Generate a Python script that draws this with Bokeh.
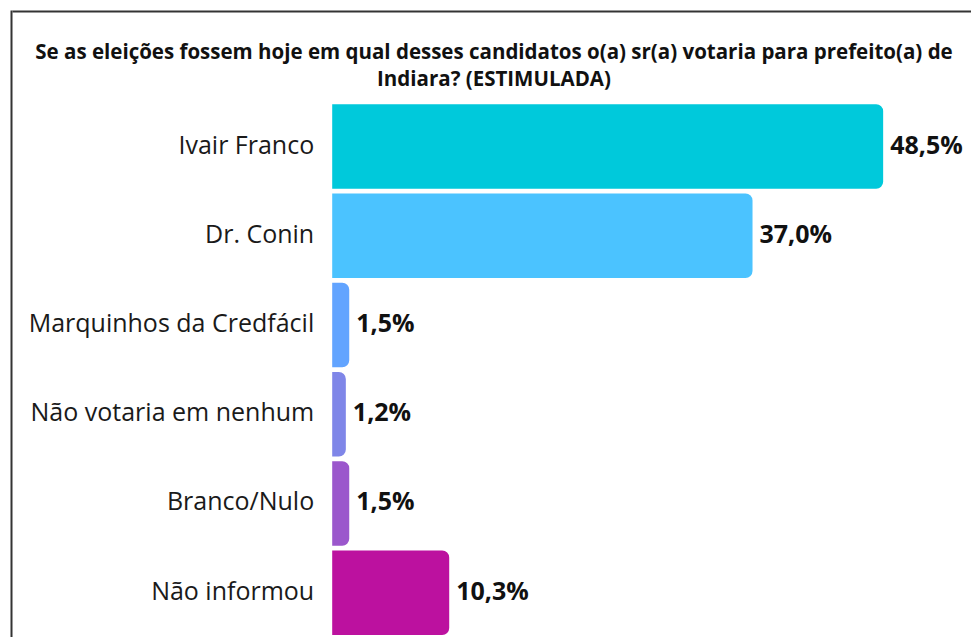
from bokeh.plotting import figure
from bokeh.models import ColumnDataSource, Range1d
from bokeh.core.properties import value
from bokeh.embed import file_html
from bokeh.resources import INLINE

# ---- data ----
categories = ["Ivair Franco", "Dr. Conin", "Marquinhos da Credfácil",
              "Não votaria em nenhum", "Branco/Nulo", "Não informou"]
values = [48.5, 37.0, 1.5, 1.2, 1.5, 10.3]
value_labels = ["48,5%", "37,0%", "1,5%", "1,2%", "1,5%", "10,3%"]
title_lines = ["Se as eleições fossem hoje em qual desses candidatos o(a) sr(a) votaria para prefeito(a) de",
               "Indiara? (ESTIMULADA)"]

# ---- styles ----
colors = ["#00C9DB", "#4BC3FF", "#62A4FF", "#7F86E8", "#9B57CC", "#BC119F"]

W, H = 971, 637
px_per_unit_x = 11.36
zero_px = 331.7
band_px = 89.24
first_center_px = 146.0

x_start = -zero_px / px_per_unit_x
x_end = (W - zero_px) / px_per_unit_x
y_top = -first_center_px / band_px
y_bottom = (len(categories) - 1) + (H - (first_center_px + band_px * (len(categories) - 1))) / band_px

def sx(px):
    return (px - zero_px) / px_per_unit_x

def sy(px):
    return (px - first_center_px) / band_px

pos = list(range(len(categories)))
src = ColumnDataSource(dict(y=pos, v=values, cat=categories, lab=value_labels,
                            color=colors, zero=[0] * len(values)))

p = figure(width=W, height=H, output_backend="svg", toolbar_location=None,
           x_range=Range1d(x_start, x_end), y_range=Range1d(y_bottom, y_top),
           min_border=0, background_fill_color="white", border_fill_color="white")
p.axis.visible = False
p.grid.visible = False
p.outline_line_color = None

p.hbar(y="y", left="zero", right="v", height=0.947, color="color", source=src,
       line_color=None, border_radius=(0, 7, 7, 0))

p.text(x="v", y="y", text="lab", source=src, x_offset=7, y_offset=-3,
       text_align="left", text_baseline="middle",
       text_font=value("Open Sans"), text_font_style="bold",
       text_font_size="25px", text_color="#111111")

p.text(x="zero", y="y", text="cat", source=src, x_offset=-18, y_offset=-3,
       text_align="right", text_baseline="middle",
       text_font=value("Open Sans"), text_font_size="25px", text_color="#1a1a1a")

# title lines
tx = sx(493.5)
p.text(x=[tx, tx], y=[sy(50), sy(77.5)], text=title_lines,
       text_align="center", text_baseline="middle",
       text_font=value("Open Sans"), text_font_style="bold",
       text_font_size="20.5px", text_color="#111111")

# frame border (top and left), meeting at the corner
p.segment(x0=[sx(12), sx(11)], y0=[sy(11), sy(10)],
          x1=[x_end + 1, sx(11)], y1=[sy(11), y_bottom + 1],
          line_color="#333333", line_width=2)

open("out.html", "w").write(file_html(p, INLINE))
